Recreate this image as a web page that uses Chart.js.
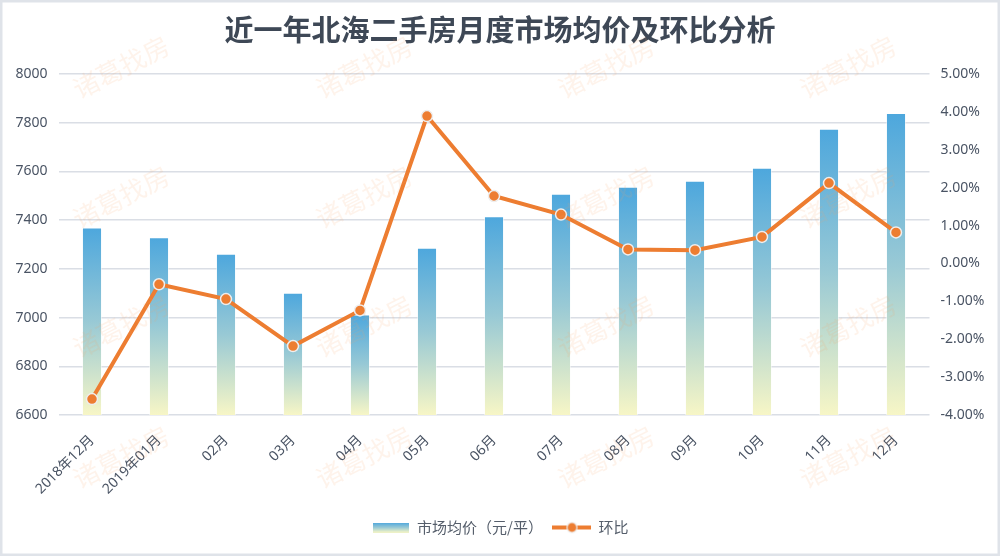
<!DOCTYPE html>
<html><head><meta charset="utf-8">
<script src="https://cdn.jsdelivr.net/npm/chart.js@4/dist/chart.umd.min.js"></script>
<style>
html,body{margin:0;padding:0;background:#fff;overflow:hidden;}
#wrap{position:relative;width:1000px;height:556px;}
</style></head>
<body><div id="wrap"><canvas id="c" width="1000" height="556"></canvas></div>
<script>
const categories = ['2018年12月','2019年01月','02月','03月','04月','05月','06月','07月','08月','09月','10月','11月','12月'];
const avgPrice = [7370,7330,7262,7102,7013,7287,7416,7508,7537,7562,7615,7775,7840];
const momChange = [-3.58,-0.55,-0.94,-2.18,-1.24,3.89,1.78,1.29,0.37,0.35,0.70,2.12,0.82];
const priceTicks = {min:6600, max:8000, step:200};
const pctTicks = {min:-4, max:5, step:1};
const titleText = '近一年北海二手房月度市场均价及环比分析';
const seriesNames = ['市场均价（元/平）','环比'];
const watermarkText = '诸葛找房';

const FONT = "'Noto Sans', 'Noto Sans CJK SC', sans-serif";
const TICK_COLOR = '#4a5464';
const ORANGE = '#ed7d31';

function barGradient(ctx, top, bottom){
  const g = ctx.createLinearGradient(0, top, 0, bottom);
  g.addColorStop(0, '#4da7dd');
  g.addColorStop(0.5, '#98c9d5');
  g.addColorStop(1, '#f7f6c6');
  return g;
}

const barIcon = document.createElement('canvas');
barIcon.width = 36; barIcon.height = 10;
(function(){const c=barIcon.getContext('2d'); c.fillStyle=barGradient(c,0,10); c.fillRect(0,0,36,10);})();
const lineIcon = document.createElement('canvas');
lineIcon.width = 39; lineIcon.height = 14;
(function(){const c=lineIcon.getContext('2d'); c.strokeStyle=ORANGE; c.lineWidth=4; c.beginPath(); c.moveTo(0,7); c.lineTo(39,7); c.stroke();
 c.beginPath(); c.arc(19.5,7,5,0,Math.PI*2); c.fillStyle=ORANGE; c.fill(); c.lineWidth=1.2; c.strokeStyle='#eeeeee'; c.stroke();})();

const decor = {
  id:'decor',
  afterDraw(chart){
    const ctx = chart.ctx;
    ctx.save();
    ctx.font = "26px 'Noto Sans CJK SC'";
    ctx.fillStyle = 'rgba(246,160,100,0.13)';
    ctx.textAlign = 'center'; ctx.textBaseline = 'middle';
    const xs = [121,364,606,848], ys = [67,197,326,457,587];
    for (const y of ys) for (const x of xs) {
      ctx.save(); ctx.translate(x,y); ctx.rotate(-27*Math.PI/180); ctx.fillText(watermarkText,0,0); ctx.restore();
    }
    ctx.strokeStyle = '#dfe3e9'; ctx.lineWidth = 2.5;
    ctx.strokeRect(1.25,1.25,1000-2.5,556-2.5);
    ctx.restore();
  }
};

new Chart(document.getElementById('c'), {
  data: {
    labels: categories,
    datasets: [
      { type:'line', label:seriesNames[1], data:momChange, yAxisID:'y1', order:1,
        borderColor:ORANGE, borderWidth:4, tension:0,
        pointRadius:5.5, pointBackgroundColor:ORANGE, pointBorderColor:'#eeeeee', pointBorderWidth:1.5 },
      { type:'bar', label:seriesNames[0], data:avgPrice, yAxisID:'y', order:2,
        barPercentage:0.3, categoryPercentage:1,
        backgroundColor:(c)=>{
          const chart=c.chart, area=chart.chartArea;
          if(!area || c.type!=='data') return '#4da7dd';
          const top = chart.scales.y.getPixelForValue(c.raw);
          return barGradient(chart.ctx, top, area.bottom);
        },
        borderColor:'rgba(255,255,255,0.5)', borderWidth:{top:1,left:1,right:1,bottom:0} }
    ]
  },
  options: {
    responsive:false, animation:false, devicePixelRatio:1,
    layout:{padding:{left:0,right:0,top:0,bottom:11}},
    plugins:{
      tooltip:{enabled:false},
      title:{display:true, text:titleText, color:'#3e4856',
        font:{family:"'Noto Sans CJK SC', sans-serif", size:29, weight:'bold', lineHeight:1.2},
        padding:{top:13,bottom:26.2}},
      legend:{position:'bottom',
        labels:{usePointStyle:true, pointStyleWidth:38, boxHeight:10, padding:10,
          color:'#555e6b', font:{family:"'Noto Sans CJK SC', sans-serif",size:15},
          generateLabels:()=>[
            {text:seriesNames[0], pointStyle:barIcon, fillStyle:'#4da7dd', strokeStyle:'transparent', lineWidth:0, hidden:false, datasetIndex:1, fontColor:'#555e6b'},
            {text:seriesNames[1], pointStyle:lineIcon, fillStyle:ORANGE, strokeStyle:'transparent', lineWidth:0, hidden:false, datasetIndex:0, fontColor:'#555e6b'}
          ]}}
    },
    scales:{
      x:{grid:{display:false}, border:{display:false},
        ticks:{autoSkip:false, minRotation:45, maxRotation:45, padding:9, color:TICK_COLOR, font:{family:FONT,size:14}},
        afterFit:(s)=>{s.height=95;}},
      y:{position:'left', min:priceTicks.min, max:priceTicks.max,
        grid:{color:'#dadee5', lineWidth:1.5, drawTicks:false}, border:{display:false},
        ticks:{stepSize:priceTicks.step, padding:11, color:TICK_COLOR, font:{family:FONT,size:14},
          callback:(v)=>String(v)},
        afterFit:(s)=>{s.width=58.5;}},
      y1:{position:'right', min:pctTicks.min, max:pctTicks.max,
        grid:{display:false, drawTicks:false}, border:{display:false},
        ticks:{stepSize:pctTicks.step, padding:11, color:TICK_COLOR, font:{family:FONT,size:14},
          callback:(v)=>v.toFixed(2)+'%'},
        afterFit:(s)=>{s.width=70.5;}}
    }
  },
  plugins:[decor]
});
</script></body></html>
